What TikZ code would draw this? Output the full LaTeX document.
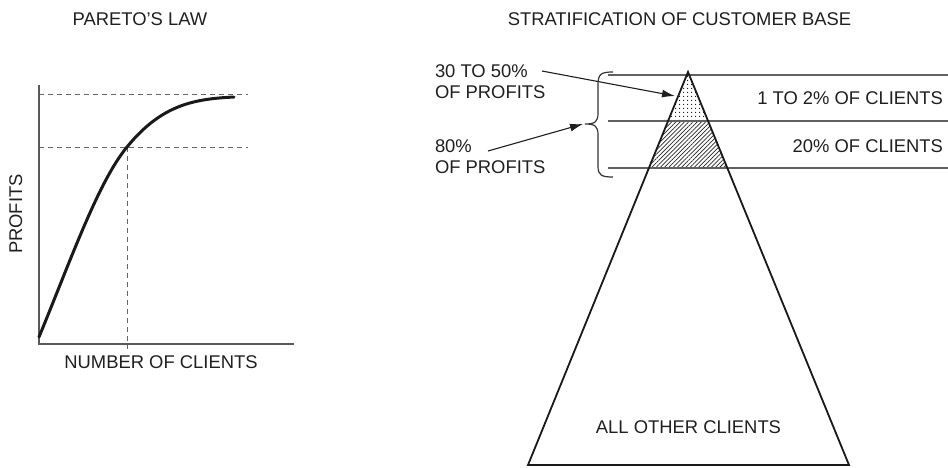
\documentclass[tikz,border=0pt]{standalone}
\usepackage{fontspec}
\setmainfont{Liberation Sans}
\usetikzlibrary{calc,arrows.meta,patterns.meta}
\begin{document}
\begin{tikzpicture}[x=1pt,y=-1pt,
  every node/.style={inner sep=0pt,outer sep=0pt,text=black!88,
    font=\fontsize{18.4}{21}\selectfont},
  axisline/.style={line width=1.1pt,draw=black!65},
  guide/.style={line width=0.9pt,draw=black!60,dash pattern=on 5pt off 4pt},
  profitcurve/.style={line width=3pt,draw=black!90,line cap=round},
  layerline/.style={line width=1.2pt,draw=black!62},
  pyramid/.style={line width=1.8pt,draw=black!90,line join=miter},
  pointer/.style={line width=1.1pt,draw=black!88,
    -{Latex[length=13pt,width=8pt]}},
  bracestyle/.style={line width=1.2pt,draw=black!80}]
\useasboundingbox (0,0) rectangle (948,467);

% ---------------- Pareto's law ----------------
\node[anchor=base] (t1) at (140,25) {PARETO\char"0027 S LAW};
\coordinate (O) at (39,344);
\coordinate (ytop) at (39,85);
\coordinate (xend) at (294,344);
\coordinate (g1a) at (39,94);
\coordinate (g1b) at (248,94);
\coordinate (g2a) at (39,147);
\coordinate (g2b) at (248,147);
\coordinate (knee) at (127,147);
\coordinate (kneefoot) at (127,349);
\coordinate (c0) at (39,337);
\coordinate (c1) at (234,97);

\draw[guide] (g1a) -- (g1b);
\draw[guide] (g2a) -- (g2b);
\draw[guide] (knee) -- (kneefoot);
\draw[axisline] (ytop) -- (O) -- (xend);
\draw[profitcurve] (c0) .. controls (70,262) and (98,182) .. (knee)
  .. controls (162,104) and (195,99) .. (c1);

\node[anchor=base,rotate=90] (ylab) at (22,214) {PROFITS};
\node[anchor=base] (xlab) at (161,368) {NUMBER OF CLIENTS};

% ---------------- Stratification ----------------
\node[anchor=base] (t2) at (679.5,25) {STRATIFICATION OF CUSTOMER BASE};

\coordinate (apex) at (688,72);
\coordinate (bl) at (528,465);
\coordinate (br) at (849,465);
\coordinate (m1l) at ($(apex)!0.1247!(bl)$);
\coordinate (m1r) at ($(apex)!0.1247!(br)$);
\coordinate (m2l) at ($(apex)!0.2443!(bl)$);
\coordinate (m2r) at ($(apex)!0.2443!(br)$);

% shaded layers
\fill[pattern={Dots[distance=4pt,radius=0.7pt]},pattern color=black]
  (apex) -- (m1l) -- (m1r) -- cycle;
\fill[pattern={Lines[angle=45,distance=3pt,line width=0.75pt]},pattern color=black!85]
  (m1l) -- (m2l) -- (m2r) -- (m1r) -- cycle;

% layer boundaries
\coordinate (h1a) at (608,75);  \coordinate (h1b) at (948,75);
\coordinate (h2a) at (608,121); \coordinate (h2b) at (948,121);
\coordinate (h3a) at (608,168); \coordinate (h3b) at (948,168);
\draw[layerline] (h1a) -- (h1b);
\draw[layerline] (h2a) -- (h2b);
\draw[layerline] (h3a) -- (h3b);

\draw[pyramid] (apex) -- (bl) -- (br) -- cycle;

\node[anchor=base east] (l1) at (943,104) {1 TO 2\% OF CLIENTS};
\node[anchor=base east] (l2) at (943,152) {20\% OF CLIENTS};
\node[anchor=base] (l3) at (688.5,433) {ALL OTHER CLIENTS};

% brace grouping the two upper layers
\coordinate (btop) at (613,72);
\coordinate (bbot) at (613,177);
\coordinate (btip) at (585,124);
\draw[bracestyle] (btop) .. controls (601,72) and (598,74) .. (598,85)
  -- (598,113) .. controls (598,122) and (595,124) .. (btip)
  .. controls (595,124) and (598,126) .. (598,135)
  -- (598,166) .. controls (598,175) and (601,177) .. (bbot);

% profit labels
\node[anchor=base west] (p1) at (435,77) {30 TO 50\%};
\node[anchor=base west] (p2) at (435,98) {OF PROFITS};
\node[anchor=base west] (p3) at (435,152) {80\%};
\node[anchor=base west] (p4) at (435,173) {OF PROFITS};

\coordinate (a1s) at (542,71);
\coordinate (a1e) at (675,96);
\coordinate (a2s) at (488,151);
\coordinate (a2e) at (583,124);
\draw[pointer] (a1s) -- (a1e);
\draw[pointer] (a2s) -- (a2e);
\end{tikzpicture}
\end{document}
